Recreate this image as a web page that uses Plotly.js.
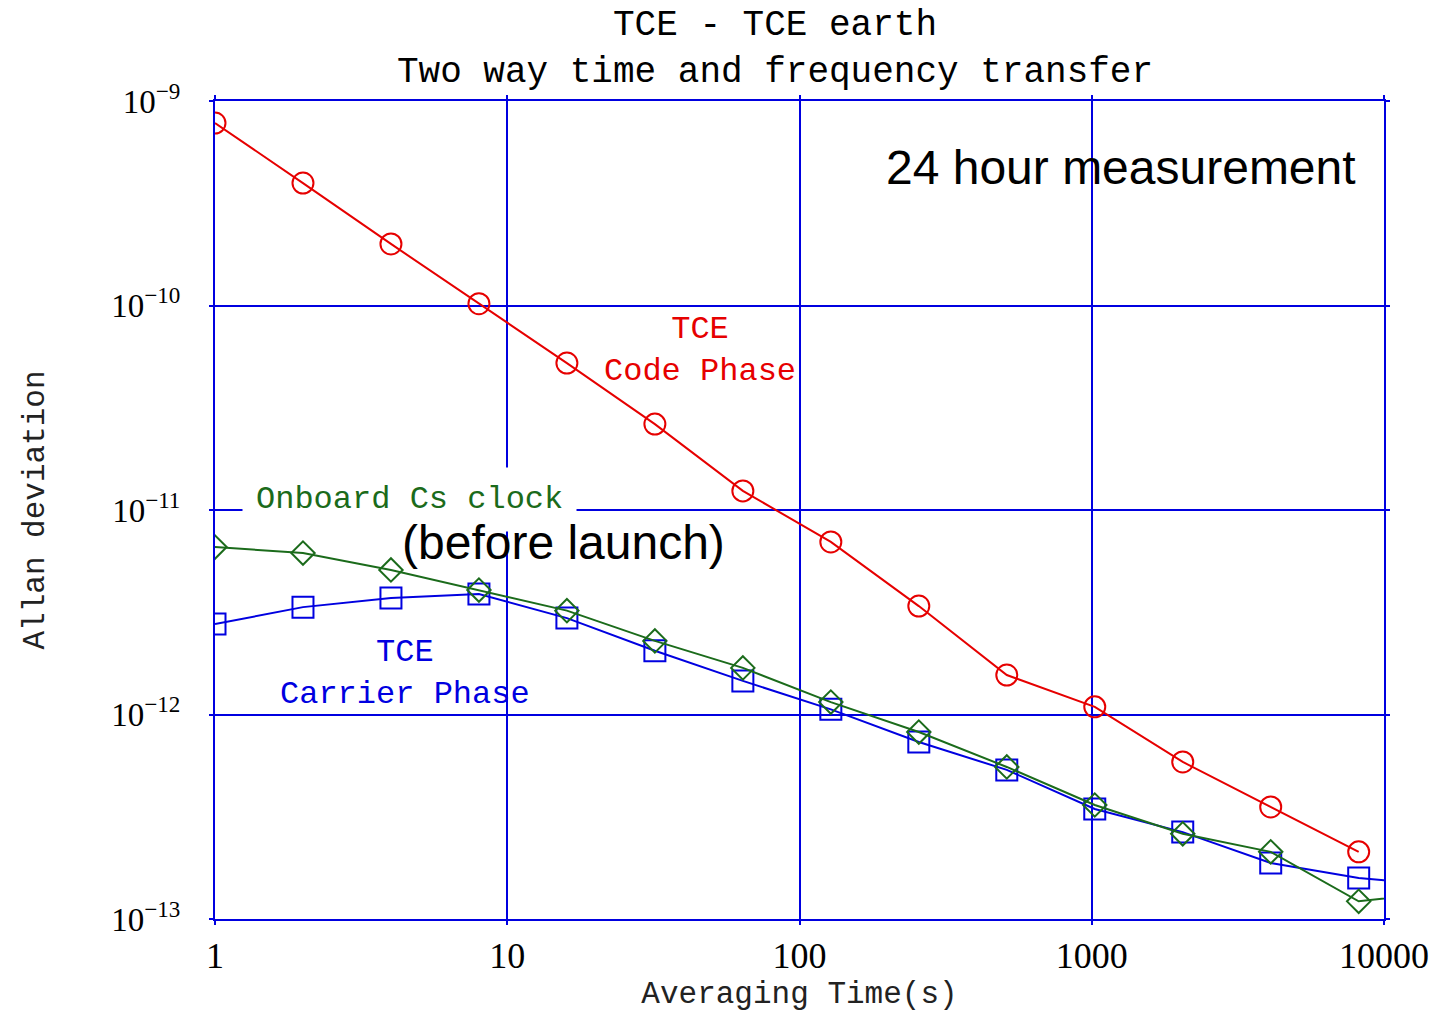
<!DOCTYPE html>
<html>
<head>
<meta charset="utf-8">
<script src="https://cdn.plot.ly/plotly-3.0.1.min.js"></script>
<style>
  html, body { margin: 0; padding: 0; background: #ffffff; }
  #chart { width: 1435px; height: 1014px; }
</style>
</head>
<body>
<div id="chart"></div>
<script>
// Averaging times (s)
const tau = [1, 2, 4, 8, 16, 32, 64, 128, 256, 512, 1024, 2048, 4096, 8192, 16384];

// Allan deviation, TCE code phase
const codePhase = [7.8e-10, 3.97e-10, 2.0e-10, 1.02e-10, 5.23e-11, 2.63e-11, 1.24e-11,
                   6.98e-12, 3.39e-12, 1.56e-12, 1.09e-12, 5.86e-13, 3.53e-13, 2.13e-13];

// Allan deviation, TCE carrier phase
const carrierPhase = [2.77e-12, 3.35e-12, 3.71e-12, 3.88e-12, 2.96e-12, 2.05e-12, 1.46e-12,
                      1.06e-12, 7.34e-13, 5.36e-13, 3.45e-13, 2.66e-13, 1.88e-13, 1.585e-13, 1.45e-13];

// Allan deviation, onboard Cs clock (before launch)
const csClock = [6.59e-12, 6.16e-12, 5.09e-12, 4.06e-12, 3.22e-12, 2.29e-12, 1.69e-12,
                 1.15e-12, 8.21e-13, 5.54e-13, 3.61e-13, 2.61e-13, 2.13e-13, 1.22e-13, 1.36e-13];

// Axis ticks
const xTickVals = [1, 10, 100, 1000, 10000];
const xTickText = ['1', '10', '100', '1000', '10000'];
const yTickVals = [1e-13, 1e-12, 1e-11, 1e-10, 1e-9];
const yTickText = ['10<sup>−13</sup>', '10<sup>−12</sup>', '10<sup>−11</sup>', '10<sup>−10</sup>', '10<sup>−9</sup>'];

const RED = '#e60000';
const BLUE = '#0000e0';
const GREEN = '#1b6b1b';
const MONO = 'Liberation Mono, DejaVu Sans Mono, monospace';
const SERIF = 'Liberation Serif, DejaVu Serif, serif';
const SANS = 'Liberation Sans, Arial, sans-serif';

const traces = [
  {
    x: tau.slice(0, codePhase.length), y: codePhase,
    mode: 'lines+markers', type: 'scatter', name: 'TCE Code Phase',
    line: { color: RED, width: 2 },
    marker: { symbol: 'circle-open', size: 21, color: RED, line: { width: 2, color: RED } }
  },
  {
    x: tau, y: carrierPhase,
    mode: 'lines+markers', type: 'scatter', name: 'TCE Carrier Phase',
    line: { color: BLUE, width: 2 },
    marker: { symbol: 'square-open', size: 21, color: BLUE, line: { width: 2, color: BLUE } }
  },
  {
    x: tau, y: csClock,
    mode: 'lines+markers', type: 'scatter', name: 'Onboard Cs clock',
    line: { color: GREEN, width: 2 },
    marker: { symbol: 'diamond-open', size: 18, color: GREEN, line: { width: 2, color: GREEN } }
  }
];

const axisCommon = {
  type: 'log',
  showgrid: true, gridcolor: BLUE, gridwidth: 2,
  showline: true, linecolor: BLUE, linewidth: 2, mirror: 'ticks',
  ticks: 'outside', ticklen: 4, tickwidth: 2, tickcolor: BLUE,
  zeroline: false
};

const layout = {
  width: 1435, height: 1014,
  margin: { l: 215, r: 51, t: 101, b: 95, pad: 0 },
  paper_bgcolor: '#ffffff', plot_bgcolor: '#ffffff',
  showlegend: false,
  title: {
    text: 'TCE - TCE earth<br>Two way time and frequency transfer',
    font: { family: MONO, size: 36, color: '#000000' },
    x: 775 / 1435, xanchor: 'center', xref: 'container',
    y: 1 - 35 / 1014, yanchor: 'top', yref: 'container'
  },
  xaxis: Object.assign({}, axisCommon, {
    range: [0, 4],
    tickvals: xTickVals, ticktext: xTickText,
    tickfont: { family: SERIF, size: 36, color: '#000000' },
    title: { text: 'Averaging Time(s)', font: { family: MONO, size: 31, color: '#222222' }, standoff: 6 }
  }),
  yaxis: Object.assign({}, axisCommon, {
    range: [-13, -9],
    tickvals: yTickVals, ticktext: yTickText,
    tickfont: { family: SERIF, size: 33, color: '#000000' },
    ticklabelstandoff: 22,
    title: { text: 'Allan deviation', font: { family: MONO, size: 31, color: '#222222' }, standoff: 57 }
  }),
  annotations: [
    {
      text: '24 hour measurement', xref: 'paper', yref: 'paper',
      x: 0.775, y: 0.919, xanchor: 'center', yanchor: 'middle', showarrow: false,
      font: { family: SANS, size: 48, color: '#000000' }
    },
    {
      text: 'TCE<br>Code Phase', xref: 'paper', yref: 'paper',
      x: 0.415, y: 0.695, xanchor: 'center', yanchor: 'middle', showarrow: false,
      font: { family: MONO, size: 32, color: RED }
    },
    {
      text: 'Onboard Cs clock', xref: 'paper', yref: 'paper',
      x: 0.1664, y: 0.5134, xanchor: 'center', yanchor: 'middle', showarrow: false,
      bgcolor: '#ffffff', borderpad: 13,
      font: { family: MONO, size: 32, color: GREEN }
    },
    {
      text: '(before launch)', xref: 'paper', yref: 'paper',
      x: 0.2977, y: 0.4597, xanchor: 'center', yanchor: 'middle', showarrow: false,
      font: { family: SANS, size: 48, color: '#000000' }
    },
    {
      text: 'TCE<br>Carrier Phase', xref: 'paper', yref: 'paper',
      x: 0.1625, y: 0.300, xanchor: 'center', yanchor: 'middle', showarrow: false,
      font: { family: MONO, size: 32, color: BLUE }
    }
  ]
};

Plotly.newPlot('chart', traces, layout, { displayModeBar: false, staticPlot: true });
</script>
</body>
</html>
